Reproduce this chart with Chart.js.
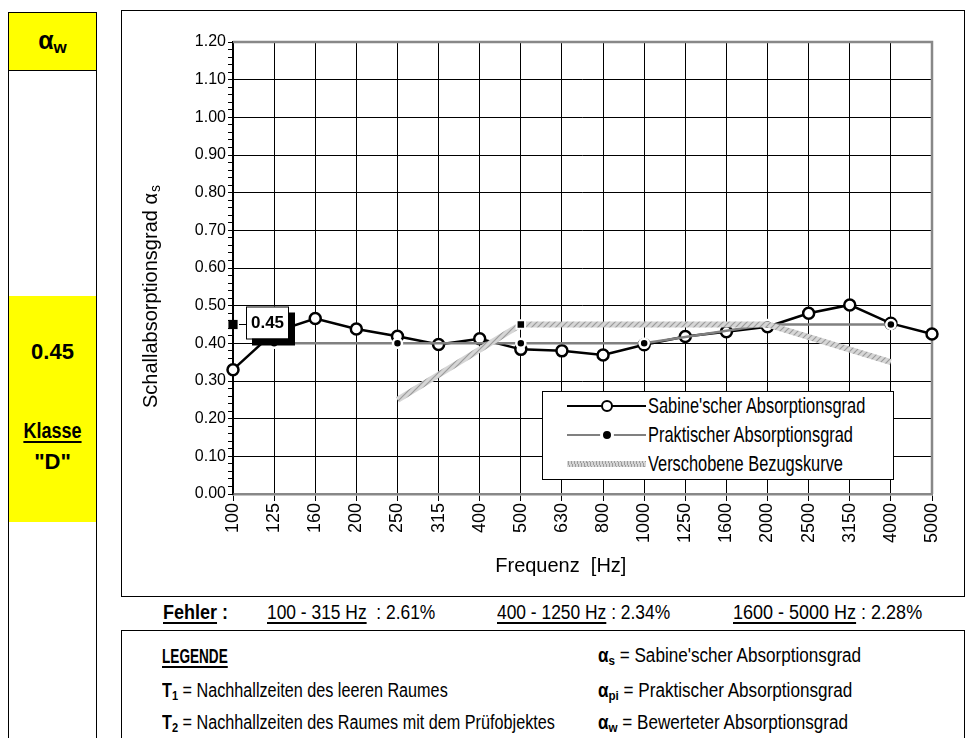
<!DOCTYPE html>
<html>
<head>
<meta charset="utf-8">
<script src="https://cdn.jsdelivr.net/npm/chart.js@4.4.1/dist/chart.umd.min.js"></script>
<style>
  body { margin: 0; width: 967px; height: 738px; overflow: hidden; background: #fff; position: relative;
         font-family: "Liberation Sans", Arial, sans-serif; color: #000; }
  .a { position: absolute; box-sizing: border-box; white-space: nowrap; }
  .n { display: inline-block; transform-origin: 0 50%; }
  #side { left: 8px; top: 12px; width: 89px; height: 760px; border: 1.5px solid #000; }
  #sideTop { left: 9px; top: 13px; width: 87px; height: 58px; background: #ff0; border-bottom: 1.5px solid #000; }
  #sideMid { left: 9px; top: 296px; width: 87px; height: 226px; background: #ff0; }
  #frame { left: 121px; top: 10px; width: 844px; height: 587px; border: 1.5px solid #000; }
  #chartCanvas { position: absolute; left: 122px; top: 11px; }
  #legend { left: 542px; top: 391px; width: 352px; height: 89px; border: 1px solid #000; background: #fff; }
  .lrow { position: absolute; left: 0; height: 24px; width: 100%; }
  .lline { position: absolute; left: 24px; width: 79px; top: 11px; height: 2px; }
  .ltext { position: absolute; left: 105px; top: 0; font-size: 22px; line-height: 24px; }
  .ltext .n { transform: scaleX(0.745); }
  .u { text-decoration: underline; text-underline-offset: 3px; }
  #box2 { left: 121px; top: 630px; width: 844px; height: 130px; border: 1.5px solid #000; }
  .t20 { font-size: 20px; line-height: 22px; }
  sub { font-size: 0.68em; vertical-align: -0.25em; line-height: 0; }
</style>
</head>
<body>
<div class="a" id="side"></div>
<div class="a" id="sideTop"></div>
<div class="a" style="left:9px;top:26px;width:87px;text-align:center;font-weight:bold;font-size:25px;line-height:28px;">α<sub style="font-size:17px">w</sub></div>
<div class="a" id="sideMid"></div>
<div class="a" style="left:9px;top:339px;width:87px;text-align:center;font-weight:bold;font-size:22px;line-height:26px;">0.45</div>
<div class="a" style="left:9px;top:417px;width:87px;text-align:center;font-weight:bold;font-size:22px;line-height:28px;"><span class="u" style="display:inline-block;transform:scaleX(0.82);text-decoration-thickness:2px">Klasse</span></div>
<div class="a" style="left:9px;top:448px;width:87px;text-align:center;font-weight:bold;font-size:22px;line-height:28px;">"D"</div>

<div class="a" id="frame"></div>
<canvas id="chartCanvas" width="842" height="585"></canvas>

<div class="a" id="legend">
  <div class="lrow" style="top:2px">
    <div class="lline" style="background:#000"></div>
    <div class="a" style="left:58px;top:6px;width:12px;height:12px;border:2px solid #000;border-radius:50%;background:#fff"></div>
    <div class="ltext"><span class="n">Sabine'scher Absorptionsgrad</span></div>
  </div>
  <div class="lrow" style="top:31px">
    <div class="lline" style="background:#808080"></div>
    <div class="a" style="left:57px;top:5px;width:14px;height:14px;border:3px solid #fff;border-radius:50%;background:#000"></div>
    <div class="ltext"><span class="n">Praktischer Absorptionsgrad</span></div>
  </div>
  <div class="lrow" style="top:60px">
    <div class="lline" style="top:9px;height:6px;background:repeating-linear-gradient(75deg,#d6d6d6 0 2px,#9c9c9c 2px 3px)"></div>
    <div class="ltext"><span class="n">Verschobene Bezugskurve</span></div>
  </div>
</div>

<div class="a t20" style="left:163px;top:601px;font-weight:bold;"><span class="n" style="transform:scaleX(0.9)"><span class="u">Fehler</span> :</span></div>
<div class="a t20" style="left:267px;top:601px;"><span class="n" style="transform:scaleX(0.87)"><span class="u">100 - 315 Hz</span>&nbsp; : 2.61%</span></div>
<div class="a t20" style="left:497px;top:601px;"><span class="n" style="transform:scaleX(0.87)"><span class="u">400 - 1250 Hz</span> : 2.34%</span></div>
<div class="a t20" style="left:733px;top:601px;"><span class="n" style="transform:scaleX(0.9)"><span class="u">1600 - 5000 Hz</span> : 2.28%</span></div>

<div class="a" id="box2"></div>
<div class="a t20" style="left:162px;top:645px;font-weight:bold;"><span class="n" style="transform:scaleX(0.68)"><span class="u">LEGENDE</span></span></div>
<div class="a t20" style="left:162px;top:679px;"><span class="n" style="transform:scaleX(0.81)"><b>T<sub>1</sub></b> = Nachhallzeiten des leeren Raumes</span></div>
<div class="a t20" style="left:162px;top:711px;"><span class="n" style="transform:scaleX(0.81)"><b>T<sub>2</sub></b> = Nachhallzeiten des Raumes mit dem Prüfobjektes</span></div>
<div class="a t20" style="left:598px;top:644px;"><span class="n" style="transform:scaleX(0.855)"><b>α<sub>s</sub></b> = Sabine'scher Absorptionsgrad</span></div>
<div class="a t20" style="left:598px;top:679px;"><span class="n" style="transform:scaleX(0.855)"><b>α<sub>pi</sub></b> = Praktischer Absorptionsgrad</span></div>
<div class="a t20" style="left:598px;top:711px;"><span class="n" style="transform:scaleX(0.855)"><b>α<sub>w</sub></b> = Bewerteter Absorptionsgrad</span></div>

<script>
// Terzband-Frequenzen [Hz]
var freqLabels = ['100', '125', '160', '200', '250', '315', '400', '500', '630',
                  '800', '1000', '1250', '1600', '2000', '2500', '3150', '4000', '5000'];

// Sabine'scher Absorptionsgrad (alpha_s)
var sabine = [0.33, 0.43, 0.466, 0.438, 0.419, 0.397, 0.412, 0.384, 0.380,
              0.369, 0.396, 0.418, 0.431, 0.444, 0.480, 0.502, 0.453, 0.425];

// Praktischer Absorptionsgrad (alpha_pi), nur Oktavbaender
var praktisch = [null, 0.40, null, null, 0.40, null, null, 0.40, null,
                 null, 0.40, null, null, 0.45, null, null, 0.45, null];

// Verschobene Bezugskurve
var bezugskurve = [null, null, null, null, 0.25, null, null, 0.45, null,
                   null, 0.45, null, null, 0.45, null, null, 0.35, null];

// Bewerteter Absorptionsgrad alpha_w
var alphaW = [0.45, null, null, null, null, null, null, null, null,
              null, null, null, null, null, null, null, null, null];
var alphaWText = '0.45';

var yMin = 0, yMax = 1.2, yMinorStep = 0.02;

var FONT = '"Liberation Sans", Arial, sans-serif';

function makeHatch() {
  var c = document.createElement('canvas');
  c.width = 6; c.height = 6;
  var g = c.getContext('2d');
  g.fillStyle = '#d6d6d6';
  g.fillRect(0, 0, 6, 6);
  g.strokeStyle = '#9c9c9c';
  g.lineWidth = 1.2;
  g.beginPath();
  g.moveTo(-1, 7); g.lineTo(7, -1);
  g.moveTo(-4, 4); g.lineTo(4, -4);
  g.moveTo(2, 10); g.lineTo(10, 2);
  g.stroke();
  return g.createPattern(c, 'repeat');
}

function isMajor(v) {
  return Math.round(v * 100) % 10 === 0;
}

// grey top and right border of the plot area
var plotFrame = {
  id: 'plotFrame',
  beforeDatasetsDraw: function (chart) {
    var a = chart.chartArea, ctx = chart.ctx;
    ctx.save();
    ctx.strokeStyle = '#888';
    ctx.lineWidth = 2.5;
    ctx.beginPath();
    ctx.moveTo(a.left, a.top);
    ctx.lineTo(a.right, a.top);
    ctx.lineTo(a.right, a.bottom);
    ctx.stroke();
    ctx.restore();
  }
};

// axis titles (y title has a subscript)
var axisTitles = {
  id: 'axisTitles',
  afterDraw: function (chart) {
    var ctx = chart.ctx, a = chart.chartArea;
    ctx.save();
    ctx.fillStyle = '#000';
    ctx.textBaseline = 'middle';

    ctx.font = '20px ' + FONT;
    ctx.textAlign = 'center';
    ctx.fillText('Frequenz  [Hz]', a.left + (a.right - a.left) * 0.469, a.bottom + 72);

    var main = 'Schallabsorptionsgrad \u03b1', sub = 's';
    ctx.font = '20px ' + FONT;
    var w1 = ctx.measureText(main).width;
    ctx.font = '14px ' + FONT;
    var w2 = ctx.measureText(sub).width;
    ctx.translate(29, (a.top + a.bottom) / 2 + 29);
    ctx.rotate(-Math.PI / 2);
    ctx.textAlign = 'left';
    var x0 = -(w1 + w2) / 2;
    ctx.font = '20px ' + FONT;
    ctx.fillText(main, x0, 0);
    ctx.font = '14px ' + FONT;
    ctx.fillText(sub, x0 + w1 + 1, 5);
    ctx.restore();
  }
};

// value box next to the alpha_w marker
var awLabel = {
  id: 'awLabel',
  afterDatasetsDraw: function (chart) {
    var meta = chart.getDatasetMeta(3);
    var p = meta.data[0];
    if (!p) return;
    var ctx = chart.ctx, x = p.x, y = p.y;
    ctx.save();
    ctx.strokeStyle = '#000';
    ctx.lineWidth = 1;
    ctx.beginPath();
    ctx.moveTo(x + 6, y);
    ctx.lineTo(x + 13, y);
    ctx.stroke();
    ctx.fillStyle = '#000';
    ctx.fillRect(x + 19, y - 12, 43, 33);
    ctx.fillStyle = '#fff';
    ctx.fillRect(x + 13, y - 18, 42, 32);
    ctx.strokeRect(x + 13.5, y - 17.5, 42, 32);
    ctx.fillStyle = '#000';
    ctx.font = 'bold 17px ' + FONT;
    ctx.textAlign = 'center';
    ctx.textBaseline = 'middle';
    ctx.fillText(alphaWText, x + 34.5, y - 1);
    ctx.restore();
  }
};

var ctx = document.getElementById('chartCanvas').getContext('2d');
var chart = new Chart(ctx, {
  type: 'line',
  data: {
    labels: freqLabels,
    datasets: [
      {
        label: 'Verschobene Bezugskurve',
        data: bezugskurve,
        borderColor: makeHatch(),
        borderWidth: 6,
        spanGaps: true,
        tension: 0,
        pointStyle: 'rect',
        pointRadius: function (c) { return c.dataIndex === 7 ? 6 : 0; },
        pointHoverRadius: 0,
        pointBackgroundColor: '#000',
        pointBorderColor: '#fff',
        pointBorderWidth: 2,
        clip: false
      },
      {
        label: 'Praktischer Absorptionsgrad',
        data: praktisch,
        borderColor: '#808080',
        borderWidth: 2.5,
        spanGaps: true,
        tension: 0,
        pointRadius: 4.5,
        pointBackgroundColor: '#000',
        pointBorderColor: '#fff',
        pointBorderWidth: 2.5,
        clip: false
      },
      {
        label: "Sabine'scher Absorptionsgrad",
        data: sabine,
        borderColor: '#000',
        borderWidth: 2.5,
        tension: 0,
        pointRadius: 5.5,
        pointBackgroundColor: '#fff',
        pointBorderColor: '#000',
        pointBorderWidth: 2.5,
        clip: false
      },
      {
        label: 'alpha_w',
        data: alphaW,
        showLine: false,
        pointStyle: 'rect',
        pointRadius: 6.5,
        pointBackgroundColor: '#000',
        pointBorderColor: '#000',
        pointBorderWidth: 0,
        clip: false
      }
    ]
  },
  options: {
    responsive: false,
    animation: false,
    layout: { padding: { top: 31, right: 32, left: 0, bottom: 0 } },
    plugins: {
      legend: { display: false },
      tooltip: { enabled: false }
    },
    scales: {
      x: {
        type: 'category',
        offset: false,
        afterFit: function (s) { s.height = 102; },
        grid: { color: '#000', lineWidth: 1, tickLength: 7, tickColor: '#000' },
        border: { color: '#888', width: 2.5 },
        ticks: {
          autoSkip: false,
          minRotation: 90,
          maxRotation: 90,
          padding: 2,
          color: '#000',
          font: { family: FONT, size: 18 }
        }
      },
      y: {
        min: yMin,
        max: yMax,
        afterFit: function (s) { s.width = 111; },
        grid: {
          color: function (c) { return isMajor(c.tick.value) ? '#000' : 'rgba(0,0,0,0)'; },
          lineWidth: 1,
          tickLength: 5,
          tickColor: '#000'
        },
        border: { color: '#000', width: 1.5 },
        ticks: {
          stepSize: yMinorStep,
          autoSkip: false,
          padding: 2,
          color: '#000',
          font: { family: FONT, size: 16 },
          callback: function (v) { return isMajor(v) ? (Math.round(v * 10) / 10).toFixed(2) : ''; }
        }
      }
    }
  },
  plugins: [plotFrame, axisTitles, awLabel]
});
</script>
</body>
</html>
